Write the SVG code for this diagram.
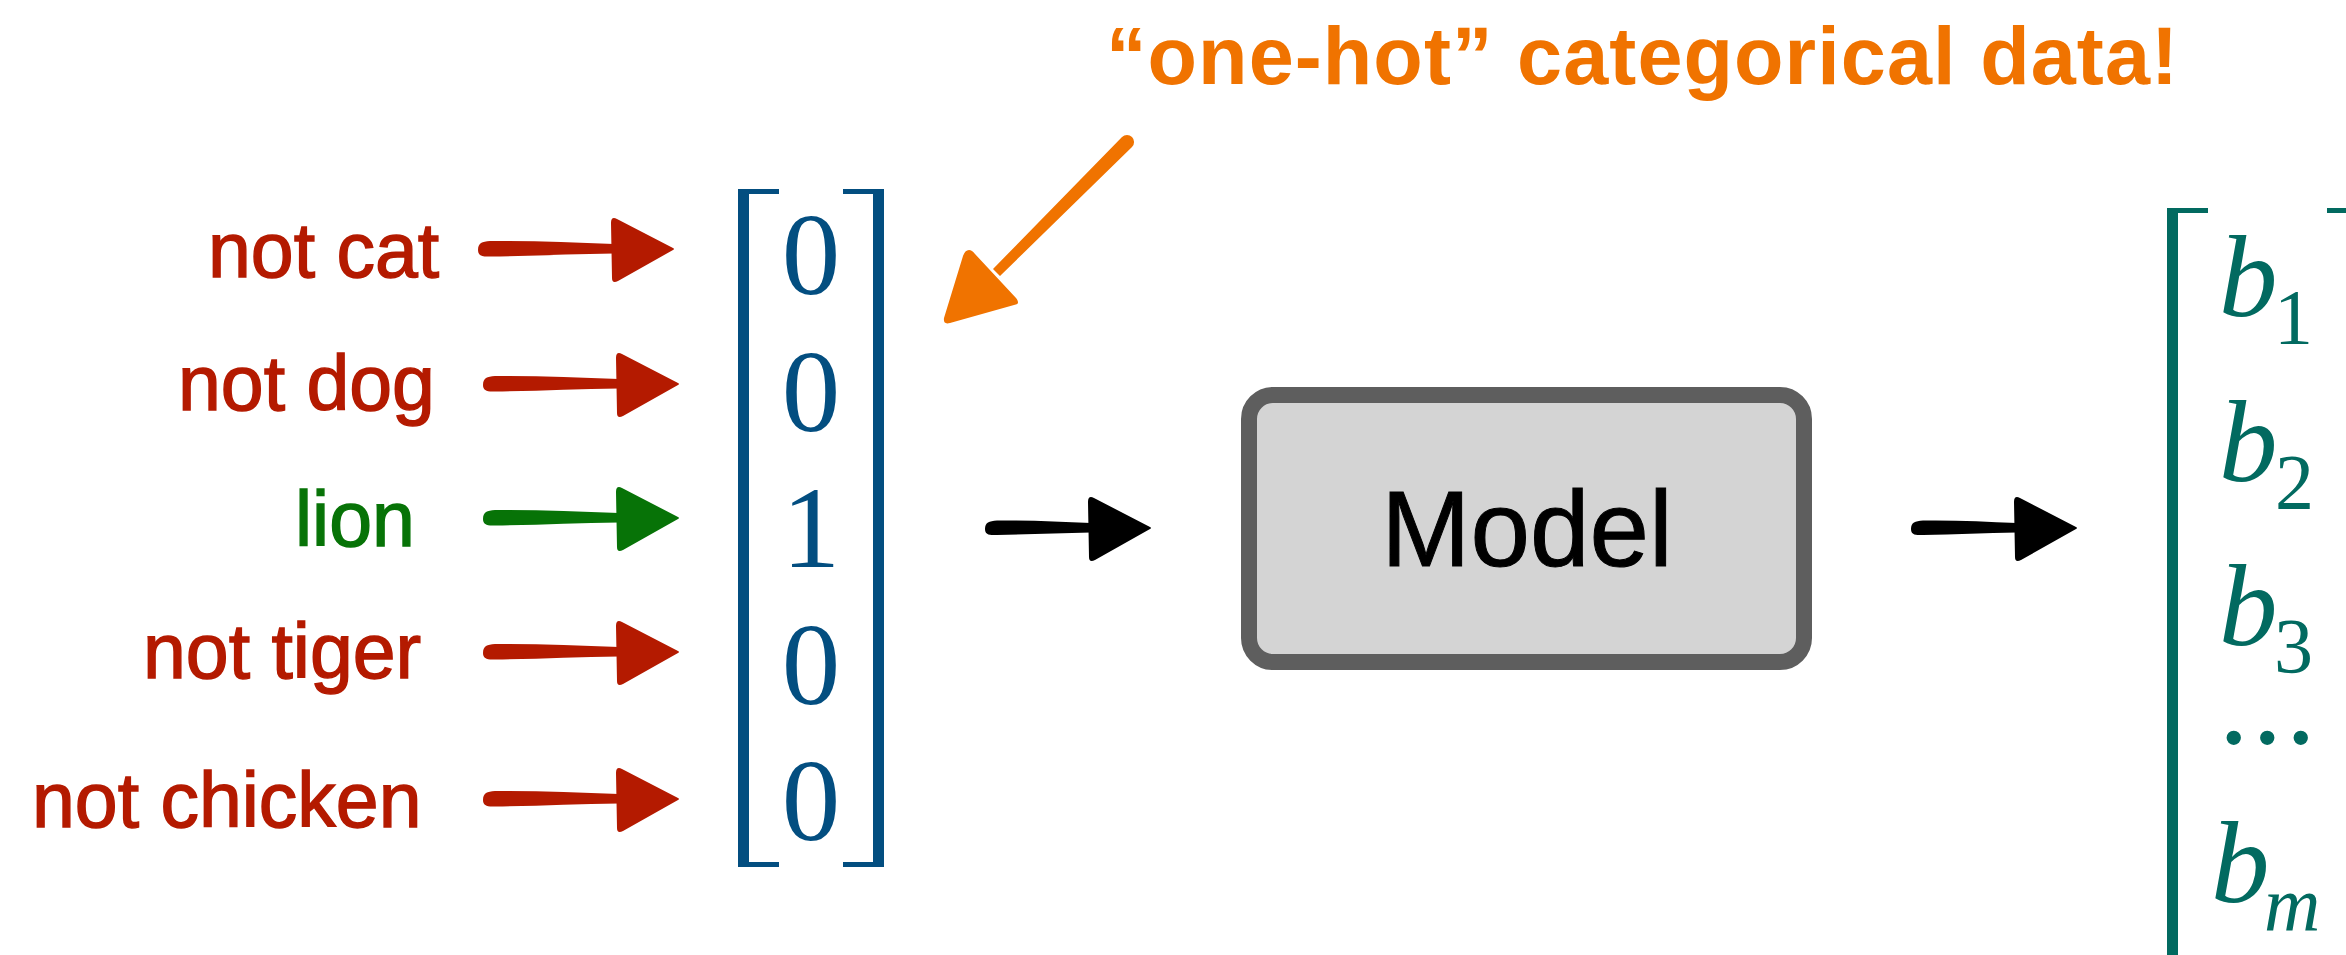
<svg xmlns="http://www.w3.org/2000/svg" xmlns:xlink="http://www.w3.org/1999/xlink" width="2346" height="955" viewBox="0 0 2346 955">
  <style>
    .label { font-family: "Liberation Sans", Arial, sans-serif; font-size: 77px; stroke-width: 1.4px; }
    .neg { fill: #B41A00; stroke: #B41A00; }
    .pos { fill: #077307; stroke: #077307; }
    .digit { font-family: "Liberation Serif", "Times New Roman", serif; font-size: 117px; fill: #034E80; text-anchor: middle; }
    .bvec { font-family: "Liberation Serif", "Times New Roman", serif; font-size: 117px; fill: #026A60; }
    .it { font-style: italic; }
    .sub { font-size: 78px; }
    .dots { font-family: "Liberation Serif", "Times New Roman", serif; font-size: 62px; fill: #026A60; stroke: #026A60; stroke-width: 7px; stroke-linejoin: round; letter-spacing: 18px; }
    .note { font-family: "Liberation Sans", Arial, sans-serif; font-weight: bold; font-size: 81px; fill: #F07300; }
    .model { font-family: "Liberation Sans", Arial, sans-serif; font-size: 107px; fill: #000; stroke: #000; stroke-width: 1px; text-anchor: middle; }
  </style>
  <defs>
    <!-- brush-style arrow pieces, tip at the origin, pointing right -->
    <path id="head" d="M1,-1 Q3,0 1,1 L-54,32 Q-60,35 -60,29 L-61,-26 Q-61,-33 -55,-30 Z"/>
    <path id="shaftLong" d="M-194,1 C-194,-6 -190,-7.5 -182,-8 C-140,-8.5 -100,-6.5 -58,-5 L-58,4.5 C-100,5 -140,7 -182,7.5 C-190,8 -194,6.5 -194,1 Z"/>
    <path id="shaftShort" d="M-164,1 C-164,-5.5 -160,-7 -152,-7.5 C-120,-8 -90,-6.5 -58,-5 L-58,4.5 C-90,5 -120,6.5 -152,7 C-160,7.5 -164,6.5 -164,1 Z"/>
  </defs>

  <!-- category labels -->
  <g id="label-cat"><text class="label neg" x="208" y="277">not cat</text></g>
  <g id="label-dog"><text class="label neg" x="178" y="410">not dog</text></g>
  <g id="label-lion"><text class="label pos" x="295" y="546">lion</text></g>
  <g id="label-tiger"><text class="label neg" x="143" y="678">not tiger</text></g>
  <g id="label-chicken"><text class="label neg" x="32" y="827">not chicken</text></g>

  <!-- one-hot vector -->
  <g id="onehot-vector">
    <path fill="#034E80" d="M738,189 H779 V194 H749 V862 H779 V867 H738 Z"/>
    <path fill="#034E80" d="M884,189 H843 V194 H873 V862 H843 V867 H884 Z"/>
    <text class="digit" x="811" y="294">0</text>
    <text class="digit" x="811" y="431">0</text>
    <text class="digit" x="811" y="567">1</text>
    <text class="digit" x="811" y="704">0</text>
    <text class="digit" x="811" y="840">0</text>
  </g>

  <!-- annotation -->
  <g id="note">
    <text class="note" x="1106" y="84" textLength="1072" lengthAdjust="spacing">“one-hot” categorical data!</text>
  </g>

  <!-- model block -->
  <g id="model">
    <rect x="1249" y="395" width="555" height="267" rx="24" ry="24" fill="#D4D4D4" stroke="#5E5E5E" stroke-width="16"/>
    <text class="model" x="1527" y="566">Model</text>
  </g>

  <!-- output vector -->
  <g id="output-vector">
    <path fill="#026A60" d="M2167,208 H2208 V213 H2178 V960 H2167 Z"/>
    <rect x="2327" y="208" width="25" height="5" fill="#026A60"/>
    <text class="bvec"><tspan class="it" x="2219" y="316">b</tspan><tspan class="sub" x="2274" y="343">1</tspan></text>
    <text class="bvec"><tspan class="it" x="2219" y="481">b</tspan><tspan class="sub" x="2275" y="508">2</tspan></text>
    <text class="bvec"><tspan class="it" x="2219" y="645">b</tspan><tspan class="sub" x="2274" y="672">3</tspan></text>
    <text class="dots" x="2226" y="741">...</text>
    <text class="bvec"><tspan class="it" x="2211" y="902">b</tspan><tspan class="it sub" x="2264" y="931">m</tspan></text>
  </g>

  <!-- connectors -->
  <g id="connectors">
    <g fill="#B41A00">
      <g transform="translate(672 249)"><use xlink:href="#shaftLong"/><use xlink:href="#head"/></g>
      <g transform="translate(677 384)"><use xlink:href="#shaftLong"/><use xlink:href="#head"/></g>
      <g transform="translate(677 652)"><use xlink:href="#shaftLong"/><use xlink:href="#head"/></g>
      <g transform="translate(677 799)"><use xlink:href="#shaftLong"/><use xlink:href="#head"/></g>
    </g>
    <g fill="#077307">
      <g transform="translate(677 518)"><use xlink:href="#shaftLong"/><use xlink:href="#head"/></g>
    </g>
    <g fill="#000">
      <g transform="translate(1149 528)"><use xlink:href="#shaftShort"/><use xlink:href="#head"/></g>
      <g transform="translate(2075 528)"><use xlink:href="#shaftShort"/><use xlink:href="#head"/></g>
    </g>
    <g fill="#F07300">
      <path d="M1122,137 A7,7 0 0 1 1132,147 L1000,276 L993,269 Z"/>
      <path d="M969,250 Q972,250 975,254 L1016,298 Q1021,304 1014,305 L950,323 Q943,325 944,318 L963,256 Q965,250 969,250 Z"/>
    </g>
  </g>
</svg>
